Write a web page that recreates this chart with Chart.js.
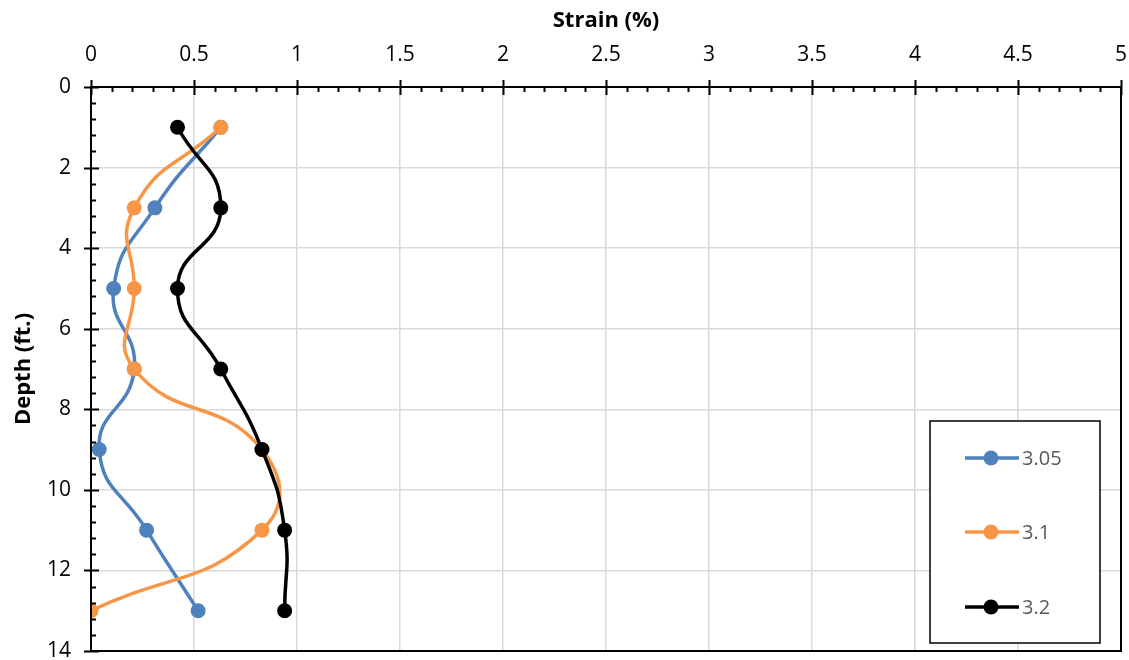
<!DOCTYPE html>
<html>
<head>
<meta charset="utf-8">
<title>Strain vs Depth</title>
<script src="https://cdn.jsdelivr.net/npm/chart.js@4/dist/chart.umd.min.js"></script>
<style>
  html, body { margin: 0; padding: 0; background: #fff; }
  #wrap { width: 1129px; height: 660px; position: relative; }
</style>
</head>
<body>
<div id="wrap"><canvas id="myChart"></canvas></div>
<script>
const depth = [1, 3, 5, 7, 9, 11, 13];
const strain305 = [0.63, 0.31, 0.11, 0.21, 0.04, 0.27, 0.52];
const strain31 = [0.63, 0.21, 0.21, 0.21, 0.83, 0.83, 0];
const strain32 = [0.42, 0.63, 0.42, 0.63, 0.83, 0.94, 0.94];
const seriesNames = ['3.05', '3.1', '3.2'];
const seriesColors = ['#4f81bd', '#f79646', '#000000'];

const FONT = "'Open Sans', sans-serif";

function toPoints(xs) {
  return xs.map((v, i) => ({ x: v, y: depth[i] }));
}

const allSeries = [strain305, strain31, strain32];
const datasets = allSeries.map((s, i) => ({
  label: seriesNames[i],
  data: toPoints(s),
  showLine: true,
  borderColor: seriesColors[i],
  backgroundColor: seriesColors[i],
  borderWidth: 3.5,
  pointRadius: 7.5,
  pointHoverRadius: 7.5,
  pointBorderWidth: 0,
  tension: 0.5,
  order: 3 - i
}));

// plot frame, crossing major ticks, minor ticks and the boxed legend
const excelLook = {
  id: 'excelLook',
  afterDraw(chart) {
    const c = chart.ctx;
    const a = chart.chartArea;
    const xs = chart.scales.x, ys = chart.scales.y;
    c.save();
    c.strokeStyle = '#000';
    c.lineWidth = 2;
    c.strokeRect(a.left, a.top, a.right - a.left, a.bottom - a.top);

    c.beginPath();
    for (let v = 0; v <= 5.0001; v += 0.1) {
      const px = Math.round(xs.getPixelForValue(v)) + 0.5;
      const major = Math.abs(v / 0.5 - Math.round(v / 0.5)) < 1e-6;
      c.moveTo(px, major ? a.top - 7 : a.top);
      c.lineTo(px, major ? a.top + 8 : a.top + 5);
    }
    for (let v = 0; v <= 14.0001; v += 0.4) {
      const py = Math.round(ys.getPixelForValue(v)) + 0.5;
      const major = Math.abs(v / 2 - Math.round(v / 2)) < 1e-6;
      c.moveTo(major ? a.left - 7 : a.left, py);
      c.lineTo(major ? a.left + 8 : a.left + 5, py);
    }
    c.stroke();

    // legend box
    const bx = 930, by = 421, bw = 170, bh = 222;
    c.fillStyle = '#fff';
    c.fillRect(bx, by, bw, bh);
    c.lineWidth = 1.5;
    c.strokeStyle = '#000';
    c.strokeRect(bx, by, bw, bh);
    const rows = [458, 532, 607];
    chart.data.datasets.forEach((ds, i) => {
      const y = rows[i];
      c.strokeStyle = ds.borderColor;
      c.lineWidth = 3.5;
      c.beginPath();
      c.moveTo(965, y);
      c.lineTo(1019, y);
      c.stroke();
      c.fillStyle = ds.backgroundColor;
      c.beginPath();
      c.arc(991, y, 7.5, 0, Math.PI * 2);
      c.fill();
      c.fillStyle = '#595959';
      c.font = '20px ' + FONT;
      c.textAlign = 'left';
      c.textBaseline = 'middle';
      c.fillText(ds.label, 1022, y + 1);
    });
    c.restore();
  }
};

const config = {
  type: 'scatter',
  data: { datasets: datasets },
  options: {
    responsive: true,
    maintainAspectRatio: false,
    animation: false,
    layout: { padding: { left: 0, top: 0, right: 8, bottom: 9 } },
    plugins: {
      legend: { display: false },
      tooltip: { enabled: false }
    },
    scales: {
      x: {
        type: 'linear',
        position: 'top',
        min: 0,
        max: 5,
        afterFit(scale) {
          scale.height = 87;
          scale.paddingLeft = 0;
          scale.paddingRight = 0;
        },
        ticks: {
          stepSize: 0.5,
          padding: 19,
          color: '#000',
          font: { family: FONT, size: 21 },
          callback: (v) => String(Math.round(v * 10) / 10)
        },
        grid: { color: '#d9d9d9', lineWidth: 1.5, drawTicks: false },
        border: { display: false },
        title: {
          display: true,
          text: 'Strain (%)',
          color: '#000',
          font: { family: FONT, size: 22, weight: 'bold' },
          padding: { top: 8, bottom: 0 }
        }
      },
      y: {
        type: 'linear',
        reverse: true,
        min: 0,
        max: 14,
        afterFit(scale) {
          scale.width = 91;
          scale.paddingTop = 0;
          scale.paddingBottom = 0;
        },
        ticks: {
          stepSize: 2,
          padding: 20,
          color: '#000',
          font: { family: FONT, size: 21 }
        },
        grid: { color: '#d9d9d9', lineWidth: 1.5, drawTicks: false },
        border: { display: false },
        title: {
          display: true,
          text: 'Depth (ft.)',
          color: '#000',
          font: { family: FONT, size: 22, weight: 'bold' },
          padding: { top: 11, bottom: 0 }
        }
      }
    }
  },
  plugins: [excelLook]
};

new Chart(document.getElementById('myChart'), config);
</script>
</body>
</html>
